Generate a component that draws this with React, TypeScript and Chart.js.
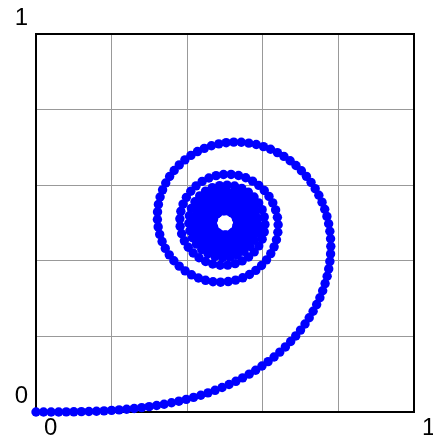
import { useEffect, useRef } from 'react';
import { Chart, registerables } from 'chart.js';

Chart.register(...registerables);

// Spiral points (x and y in data units, 0..1)
const spiralX = [
  0, 0.02, 0.04, 0.06, 0.08, 0.1, 0.12, 0.14, 0.16, 0.18, 0.1999, 0.2199, 0.2398, 0.2597, 0.2796, 0.2994, 0.3192, 0.3389, 0.3585, 0.378, 0.3975, 0.4168, 0.436, 0.4549, 0.4738, 0.4923,
  0.5107, 0.5288, 0.5466, 0.564, 0.5811, 0.5978, 0.614, 0.6298, 0.645, 0.6597, 0.6737, 0.6871, 0.6998, 0.7117, 0.7228, 0.7331, 0.7425, 0.751, 0.7584, 0.7648, 0.7702, 0.7744, 0.7774, 0.7793, 0.7799,
  0.7793, 0.7774, 0.7742, 0.7696, 0.7638, 0.7567, 0.7483, 0.7386, 0.7276, 0.7154, 0.7021, 0.6877, 0.6723, 0.6558, 0.6386, 0.6205, 0.6018, 0.5827, 0.563, 0.5431, 0.5231, 0.5031, 0.4835, 0.4641, 0.4453,
  0.4272, 0.4099, 0.3939, 0.379, 0.3655, 0.3535, 0.3432, 0.3349, 0.3283, 0.3238, 0.3215, 0.3212, 0.3232, 0.3273, 0.3336, 0.342, 0.3525, 0.3647, 0.3788, 0.3945, 0.4115, 0.4297, 0.4486, 0.4683, 0.4883,
  0.5084, 0.5279, 0.5469, 0.5648, 0.5815, 0.5967, 0.6099, 0.6211, 0.6299, 0.6361, 0.6398, 0.6406, 0.6386, 0.6339, 0.6264, 0.6164, 0.6039, 0.5893, 0.5729, 0.5549, 0.5358, 0.5161, 0.4961, 0.4764, 0.4574,
  0.4396, 0.4235, 0.4094, 0.3978, 0.389, 0.3832, 0.3806, 0.3813, 0.3853, 0.3925, 0.4028, 0.4158, 0.4313, 0.4487, 0.4675, 0.4872, 0.5072, 0.5268, 0.5454, 0.5624, 0.5772, 0.5893, 0.5983, 0.6038, 0.6057,
  0.6038, 0.5982, 0.5891, 0.5768, 0.5616, 0.5443, 0.5253, 0.5055, 0.4856, 0.4664, 0.4486, 0.4331, 0.4204, 0.4112, 0.4057, 0.4043, 0.4071, 0.4139, 0.4245, 0.4385, 0.4551, 0.4737, 0.4935, 0.5134, 0.5326,
  0.55, 0.565, 0.5767, 0.5845, 0.588, 0.587, 0.5815, 0.5718, 0.5584, 0.542, 0.5234, 0.5036, 0.4837, 0.4649, 0.4481, 0.4344, 0.4244, 0.419, 0.4182, 0.4223, 0.4311, 0.4439, 0.4601, 0.4786, 0.4984,
  0.5182, 0.5368, 0.5529, 0.5655, 0.5738, 0.5771, 0.5753, 0.5685, 0.5571, 0.5418, 0.5236, 0.504, 0.4841, 0.4655, 0.4494, 0.4371, 0.4294, 0.427, 0.43, 0.4383, 0.4512, 0.4678, 0.4868, 0.5067, 0.526,
  0.5432, 0.5568, 0.5658, 0.5694, 0.5673, 0.5596, 0.5469, 0.5304, 0.5114, 0.4914, 0.4723, 0.4557, 0.4431, 0.4355, 0.4338, 0.438, 0.4478, 0.4624, 0.4804, 0.5002, 0.5198, 0.5375, 0.5515, 0.5605, 0.5637,
  0.5605, 0.5515, 0.5373, 0.5195, 0.4998, 0.4802, 0.4627, 0.4491, 0.4409, 0.4389, 0.4433, 0.4538, 0.4692, 0.4879, 0.5078, 0.5268, 0.5427, 0.5538, 0.5589, 0.5573, 0.5491, 0.5354, 0.5176, 0.4978, 0.4784,
  0.4616, 0.4494, 0.4434, 0.4441, 0.4517, 0.4651, 0.4828, 0.5026, 0.5219, 0.5385, 0.5501, 0.5552, 0.5533, 0.5444, 0.5298, 0.5114, 0.4915, 0.4728, 0.4578, 0.4486, 0.4463, 0.4514, 0.4632, 0.48, 0.4995,
  0.5191, 0.5358, 0.5475, 0.5523, 0.5495, 0.5396, 0.524, 0.5048, 0.4851, 0.4676, 0.455, 0.4493, 0.4512, 0.4606, 0.476, 0.495, 0.5148, 0.5322, 0.5444, 0.5496, 0.5469, 0.5366, 0.5205, 0.5011, 0.4816,
  0.4652, 0.4546, 0.4515, 0.4566, 0.469, 0.4866, 0.5064, 0.525, 0.5393, 0.5467, 0.546, 0.5372, 0.5218, 0.5027, 0.4831, 0.4666, 0.4562, 0.4538, 0.4598, 0.4732, 0.4915, 0.5114, 0.529, 0.5411, 0.5455,
  0.5411, 0.529, 0.5112, 0.4914, 0.4733, 0.4605, 0.4554, 0.4592, 0.4711, 0.4887, 0.5086, 0.5266, 0.5392, 0.5437, 0.5393, 0.5267, 0.5087, 0.4889, 0.4714, 0.4601, 0.4572, 0.4635, 0.4776, 0.4964, 0.516,
  0.532, 0.541, 0.5409, 0.5318, 0.5156, 0.496, 0.4773, 0.4638, 0.4586, 0.4628, 0.4755, 0.4938, 0.5135, 0.53, 0.5395, 0.5396, 0.5304, 0.5139, 0.4942, 0.476, 0.4635, 0.46, 0.4662, 0.4806, 0.4998,
  0.519, 0.5334, 0.5394, 0.5356, 0.5228, 0.5042, 0.4847, 0.4691, 0.4615, 0.4638, 0.4756, 0.4936, 0.5133, 0.5294, 0.5377, 0.536, 0.5247, 0.5067, 0.487, 0.4709, 0.4627, 0.4647, 0.4764, 0.4946, 0.5142,
  0.5298, 0.537, 0.5339, 0.5212, 0.5025, 0.4831, 0.4687, 0.4632, 0.4684, 0.4827, 0.502, 0.5207, 0.5332, 0.5359, 0.528, 0.5117, 0.492, 0.4747, 0.4651, 0.4661, 0.4774, 0.4956, 0.5151, 0.5299, 0.5354,
  0.5299, 0.515, 0.4955, 0.4775, 0.4666, 0.4664, 0.4769, 0.4947, 0.5143, 0.5291, 0.5345, 0.5286, 0.5134, 0.4938, 0.4763, 0.4667, 0.4682, 0.4803, 0.499, 0.518, 0.5309, 0.5332, 0.5242, 0.5069, 0.4873,
  0.4721, 0.4666, 0.4728, 0.4885, 0.5081, 0.5249, 0.5328, 0.529, 0.5149, 0.4955, 0.4777, 0.468, 0.47, 0.4828, 0.5019, 0.5203, 0.5311, 0.5304, 0.5184, 0.4996, 0.481, 0.4695, 0.4696, 0.4812, 0.4999,
];

const spiralY = [
  0, 0, 0, 0.0001, 0.0003, 0.0005, 0.0009, 0.0014, 0.0021, 0.0031, 0.0042, 0.0056, 0.0072, 0.0092, 0.0115, 0.0141, 0.0171, 0.0205, 0.0244, 0.0286, 0.0334, 0.0386, 0.0443, 0.0506, 0.0574, 0.0647,
  0.0727, 0.0812, 0.0904, 0.1001, 0.1105, 0.1216, 0.1333, 0.1456, 0.1585, 0.1721, 0.1864, 0.2012, 0.2167, 0.2327, 0.2493, 0.2665, 0.2842, 0.3023, 0.3208, 0.3398, 0.3591, 0.3786, 0.3984, 0.4183, 0.4383,
  0.4583, 0.4782, 0.4979, 0.5174, 0.5365, 0.5552, 0.5734, 0.5908, 0.6075, 0.6234, 0.6383, 0.6522, 0.6648, 0.6763, 0.6863, 0.695, 0.7021, 0.7076, 0.7114, 0.7135, 0.7139, 0.7125, 0.7093, 0.7043, 0.6975,
  0.689, 0.6788, 0.667, 0.6536, 0.6389, 0.6229, 0.6057, 0.5877, 0.5687, 0.5492, 0.5293, 0.5093, 0.4896, 0.4699, 0.4509, 0.4328, 0.4157, 0.4001, 0.3858, 0.3734, 0.3629, 0.3544, 0.3484, 0.3447, 0.3434,
  0.3451, 0.3488, 0.355, 0.3637, 0.3746, 0.3876, 0.4025, 0.419, 0.4369, 0.4558, 0.4755, 0.4954, 0.5153, 0.5346, 0.5532, 0.5704, 0.586, 0.5996, 0.6109, 0.6196, 0.6256, 0.6285, 0.6284, 0.6253, 0.6191,
  0.6101, 0.5983, 0.5841, 0.5679, 0.55, 0.5309, 0.5111, 0.4911, 0.4715, 0.4529, 0.4358, 0.4207, 0.408, 0.3982, 0.3916, 0.3883, 0.3886, 0.3924, 0.3997, 0.4102, 0.4236, 0.4394, 0.4573, 0.4764, 0.4963,
  0.5161, 0.5353, 0.5531, 0.5688, 0.5818, 0.5916, 0.5979, 0.6003, 0.5988, 0.5934, 0.5842, 0.5716, 0.5562, 0.5385, 0.5193, 0.4994, 0.4796, 0.4609, 0.444, 0.4297, 0.4187, 0.4115, 0.4084, 0.4097, 0.4152,
  0.4249, 0.4381, 0.4543, 0.4726, 0.4923, 0.5122, 0.5314, 0.5489, 0.5637, 0.575, 0.5822, 0.5849, 0.583, 0.5764, 0.5656, 0.5512, 0.5339, 0.5147, 0.4947, 0.4752, 0.4573, 0.442, 0.4303, 0.423, 0.4205,
  0.4229, 0.4303, 0.4421, 0.4576, 0.4758, 0.4954, 0.5153, 0.5341, 0.5504, 0.5632, 0.5716, 0.575, 0.573, 0.5659, 0.554, 0.5383, 0.5199, 0.5001, 0.4804, 0.4622, 0.447, 0.436, 0.4299, 0.4293, 0.4342,
  0.4444, 0.4589, 0.4768, 0.4964, 0.5162, 0.5346, 0.55, 0.5612, 0.5671, 0.5672, 0.5615, 0.5505, 0.5351, 0.5166, 0.4968, 0.4773, 0.46, 0.4464, 0.4378, 0.435, 0.4384, 0.4476, 0.4617, 0.4795, 0.4992,
  0.5189, 0.5366, 0.5506, 0.5595, 0.5624, 0.5589, 0.5494, 0.5348, 0.5167, 0.4969, 0.4775, 0.4605, 0.4479, 0.4409, 0.4404, 0.4465, 0.4584, 0.4749, 0.4942, 0.514, 0.5322, 0.5466, 0.5556, 0.558, 0.5537,
  0.543, 0.5273, 0.5083, 0.4884, 0.47, 0.4554, 0.4462, 0.4438, 0.4484, 0.4595, 0.4757, 0.4949, 0.5147, 0.5325, 0.5461, 0.5535, 0.5538, 0.547, 0.5339, 0.5163, 0.4966, 0.4773, 0.4613, 0.4507, 0.4469,
  0.4507, 0.4614, 0.4775, 0.4968, 0.5165, 0.5337, 0.546, 0.5514, 0.5493, 0.5398, 0.5244, 0.5054, 0.4856, 0.4681, 0.4555, 0.4499, 0.452, 0.4617, 0.4773, 0.4965, 0.5162, 0.5332, 0.5448, 0.5491, 0.5454,
  0.5342, 0.5174, 0.4978, 0.4786, 0.4631, 0.4538, 0.4525, 0.4593, 0.4731, 0.4915, 0.5113, 0.5291, 0.5417, 0.5469, 0.5436, 0.5326, 0.5157, 0.496, 0.4771, 0.4624, 0.4548, 0.4556, 0.4646, 0.4803, 0.4997,
  0.5191, 0.5347, 0.5437, 0.5441, 0.536, 0.5209, 0.5017, 0.4822, 0.4664, 0.4572, 0.4568, 0.465, 0.4803, 0.4996, 0.5189, 0.5343, 0.5425, 0.5418, 0.5323, 0.5161, 0.4965, 0.4777, 0.4637, 0.4576, 0.4607,
  0.4723, 0.49, 0.5098, 0.5274, 0.5389, 0.5416, 0.535, 0.5205, 0.5014, 0.482, 0.4668, 0.4593, 0.4613, 0.4722, 0.4896, 0.5094, 0.5269, 0.538, 0.54, 0.5323, 0.5169, 0.4975, 0.4787, 0.4651, 0.4602,
  0.4651, 0.4787, 0.4976, 0.517, 0.532, 0.539, 0.536, 0.5238, 0.5055, 0.4859, 0.47, 0.4619, 0.4638, 0.4753, 0.4932, 0.5129, 0.5291, 0.5375, 0.5357, 0.5243, 0.5063, 0.4866, 0.4707, 0.4629, 0.4653,
  0.4774, 0.4958, 0.5154, 0.5305, 0.5369, 0.5329, 0.5194, 0.5004, 0.4813, 0.4677, 0.4636, 0.47, 0.4853, 0.5049, 0.5229, 0.5341, 0.5351, 0.5255, 0.5083, 0.4885, 0.4724, 0.4647, 0.4678, 0.4809, 0.4999,
  0.5188, 0.5318, 0.5348, 0.5269, 0.5104, 0.4907, 0.474, 0.4656, 0.4684, 0.4814, 0.5003, 0.5192, 0.5317, 0.5337, 0.5247, 0.5074, 0.4878, 0.4723, 0.4661, 0.4713, 0.4863, 0.5059, 0.5234, 0.5329, 0.531,
  0.5184, 0.4995, 0.4808, 0.4688, 0.4679, 0.4782, 0.4962, 0.5156, 0.5293, 0.5325, 0.524, 0.5069, 0.4873, 0.4723, 0.4676, 0.4747, 0.4911, 0.5108, 0.5264, 0.5321, 0.5258, 0.5098, 0.4901, 0.4742, 0.4682,
];

// Axis setup
const axisMin = 0;
const axisMax = 1;
const gridStep = 0.2;
const labeledTicks = [0, 1];

const framePlugin = {
  id: 'plotFrame',
  beforeDatasetsDraw(chart: any) {
    const { ctx, chartArea: a } = chart;
    ctx.save();
    ctx.strokeStyle = '#000000';
    ctx.lineWidth = 2;
    ctx.strokeRect(a.left, a.top, a.right - a.left, a.bottom - a.top);
    ctx.restore();
  },
};

export default function App() {
  const ref = useRef<HTMLCanvasElement>(null);

  useEffect(() => {
    const points = spiralX.map((x, i) => ({ x, y: spiralY[i] }));
    const tickFont = { family: "'Liberation Sans', Arial, sans-serif", size: 24 };
    const labelFor = (v: any) => {
      const n = Number(v);
      return labeledTicks.some((t) => Math.abs(t - n) < 1e-9) ? String(Math.round(n)) : '';
    };

    const chart = new Chart(ref.current as HTMLCanvasElement, {
      type: 'scatter',
      data: {
        datasets: [
          {
            data: points,
            backgroundColor: '#0000ff',
            borderColor: '#0000ff',
            pointRadius: 4.7,
            pointBorderWidth: 0,
            borderWidth: 0,
            clip: false as any,
          },
        ],
      },
      options: {
        animation: false,
        responsive: false,
        devicePixelRatio: 1,
        events: [],
        layout: { padding: { left: 0, top: 34, right: 19, bottom: 0 } },
        plugins: {
          legend: { display: false },
          tooltip: { enabled: false },
        },
        scales: {
          x: {
            type: 'linear',
            min: axisMin,
            max: axisMax,
            afterFit: (s: any) => {
              s.height = 34;
            },
            ticks: {
              stepSize: gridStep,
              autoSkip: false,
              maxRotation: 0,
              padding: 2,
              labelOffset: 14.6,
              font: tickFont,
              color: '#000000',
              callback: labelFor,
            },
            grid: { color: '#999999', lineWidth: 1, drawTicks: false },
            border: { display: false },
          },
          y: {
            type: 'linear',
            min: axisMin,
            max: axisMax,
            afterFit: (s: any) => {
              s.width = 36;
            },
            ticks: {
              stepSize: gridStep,
              autoSkip: false,
              padding: 8,
              labelOffset: -16,
              font: tickFont,
              color: '#000000',
              callback: labelFor,
            },
            grid: { color: '#999999', lineWidth: 1, drawTicks: false },
            border: { display: false },
          },
        },
      },
      plugins: [framePlugin],
    });

    return () => chart.destroy();
  }, []);

  return (
    <div style={{ position: 'fixed', left: 0, top: 0, width: 433, height: 446, background: '#ffffff' }}>
      <canvas ref={ref} width={433} height={446} style={{ display: 'block', width: 433, height: 446 }} />
    </div>
  );
}
